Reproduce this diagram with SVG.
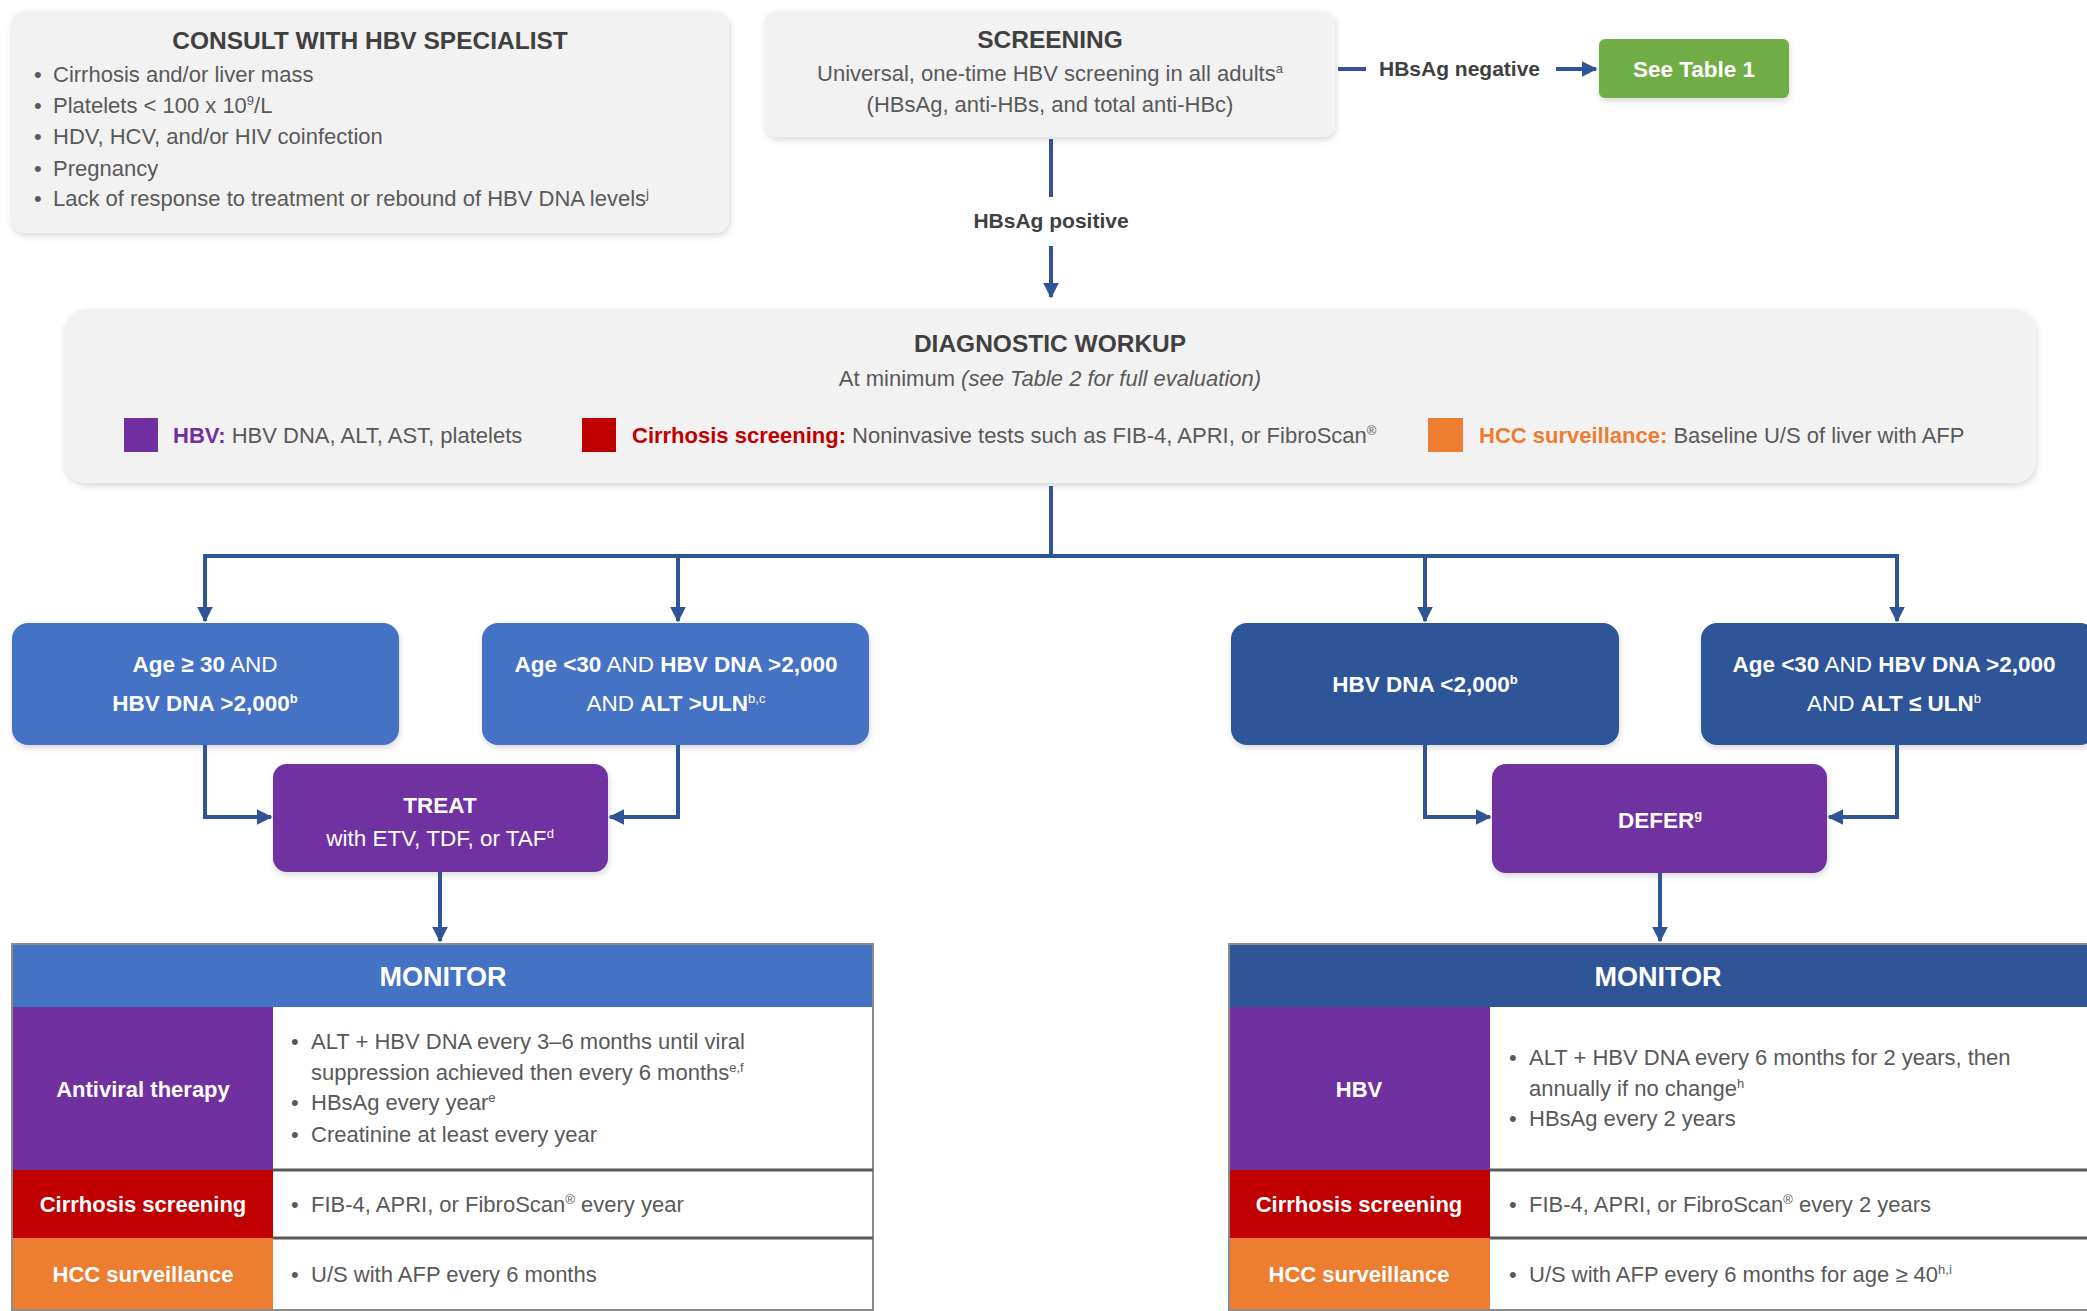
<svg xmlns="http://www.w3.org/2000/svg" width="2087" height="1311" viewBox="0 0 2087 1311">
<defs>
<filter id="sh" x="-5%" y="-10%" width="110%" height="125%">
<feDropShadow dx="1" dy="3" stdDeviation="3" flood-color="#000" flood-opacity="0.15"/>
</filter>
<marker id="ah" viewBox="0 0 10 10" refX="9" refY="5" markerWidth="4" markerHeight="4" markerUnits="strokeWidth" orient="auto">
<path d="M0,0 L10,5 L0,10 z" fill="#2F5597"/>
</marker>
</defs>
<style>
text{font-family:"Liberation Sans",Arial,sans-serif;}
.gbox{fill:#F2F2F2;}
.t{font-size:22px;fill:#595959;}
.h{font-size:24.5px;font-weight:bold;fill:#404040;}
.w{font-size:22.5px;fill:#FFFFFF;}
.b{font-weight:bold;}
.lbl{font-size:22px;font-weight:bold;fill:#FFFFFF;}
.mh{font-size:27px;font-weight:bold;fill:#FFFFFF;}
.sup{font-size:13px;}
.con{fill:none;stroke:#2F5597;stroke-width:4;}
.sep{stroke:#595959;stroke-width:3;}
.bd{fill:none;stroke:#8C8C8C;stroke-width:2;}
</style>
<rect width="2087" height="1311" fill="#FFFFFF"/>

<g id="consult">
<rect class="gbox" x="11" y="11" width="718" height="222" rx="14" filter="url(#sh)"/>
<text class="h" x="370" y="49" text-anchor="middle">CONSULT WITH HBV SPECIALIST</text>
<text class="t" x="34" y="82">•</text><text class="t" x="53" y="82">Cirrhosis and/or liver mass</text>
<text class="t" x="34" y="113">•</text><text class="t" x="53" y="113">Platelets &lt; 100 x 10<tspan class="sup" dy="-8">9</tspan><tspan dy="8">/L</tspan></text>
<text class="t" x="34" y="144">•</text><text class="t" x="53" y="144">HDV, HCV, and/or HIV coinfection</text>
<text class="t" x="34" y="176">•</text><text class="t" x="53" y="176">Pregnancy</text>
<text class="t" x="34" y="206">•</text><text class="t" x="53" y="206">Lack of response to treatment or rebound of HBV DNA levels<tspan class="sup" dy="-8">j</tspan></text>
</g>

<g id="screening">
<rect class="gbox" x="765" y="11" width="570" height="126" rx="12" filter="url(#sh)"/>
<text class="h" x="1050" y="48" text-anchor="middle">SCREENING</text>
<text class="t" x="1050" y="81" text-anchor="middle">Universal, one-time HBV screening in all adults<tspan class="sup" dy="-8">a</tspan></text>
<text class="t" x="1050" y="112" text-anchor="middle">(HBsAg, anti-HBs, and total anti-HBc)</text>
</g>

<g id="see-table-1">
<rect x="1599" y="39" width="190" height="59" rx="6" fill="#70AD47" filter="url(#sh)"/>
<text class="w b" x="1694" y="77" text-anchor="middle">See Table 1</text>
</g>

<g id="diagnostic">
<rect class="gbox" x="64" y="309" width="1972" height="174" rx="22" filter="url(#sh)"/>
<text class="h" x="1050" y="352" text-anchor="middle" font-size="26.5">DIAGNOSTIC WORKUP</text>
<text class="t" x="1050" y="386" text-anchor="middle">At minimum <tspan font-style="italic">(see Table 2 for full evaluation)</tspan></text>
<rect x="124" y="418" width="34" height="34" fill="#7030A0"/>
<text class="t" x="173" y="443"><tspan class="b" fill="#7030A0">HBV:</tspan> HBV DNA, ALT, AST, platelets</text>
<rect x="582" y="418" width="34" height="34" fill="#C00000"/>
<text class="t" x="632" y="443"><tspan class="b" fill="#C00000">Cirrhosis screening:</tspan> Noninvasive tests such as FIB-4, APRI, or FibroScan<tspan class="sup" dy="-8">®</tspan></text>
<rect x="1428" y="418" width="35" height="34" fill="#ED7D31"/>
<text class="t" x="1479" y="443"><tspan class="b" fill="#ED7D31">HCC surveillance:</tspan> Baseline U/S of liver with AFP</text>
</g>

<g id="cond1">
<rect x="12" y="623" width="387" height="122" rx="16" fill="#4472C4" filter="url(#sh)"/>
<text class="w" x="205" y="672" text-anchor="middle"><tspan class="b">Age ≥ 30</tspan> AND</text>
<text class="w b" x="205" y="711" text-anchor="middle">HBV DNA &gt;2,000<tspan class="sup" dy="-8">b</tspan></text>
</g>
<g id="cond2">
<rect x="482" y="623" width="387" height="122" rx="16" fill="#4472C4" filter="url(#sh)"/>
<text class="w" x="676" y="672" text-anchor="middle"><tspan class="b">Age &lt;30</tspan> AND <tspan class="b">HBV DNA &gt;2,000</tspan></text>
<text class="w" x="676" y="711" text-anchor="middle">AND <tspan class="b">ALT &gt;ULN</tspan><tspan class="sup" dy="-8">b,c</tspan></text>
</g>
<g id="cond3">
<rect x="1231" y="623" width="388" height="122" rx="16" fill="#2F5597" filter="url(#sh)"/>
<text class="w b" x="1425" y="692" text-anchor="middle">HBV DNA &lt;2,000<tspan class="sup" dy="-8">b</tspan></text>
</g>
<g id="cond4">
<rect x="1701" y="623" width="395" height="122" rx="16" fill="#2F5597" filter="url(#sh)"/>
<text class="w" x="1894" y="672" text-anchor="middle"><tspan class="b">Age &lt;30</tspan> AND <tspan class="b">HBV DNA &gt;2,000</tspan></text>
<text class="w" x="1894" y="711" text-anchor="middle">AND <tspan class="b">ALT ≤ ULN</tspan><tspan class="sup" dy="-8">b</tspan></text>
</g>

<g id="treat">
<rect x="273" y="764" width="335" height="108" rx="14" fill="#7030A0" filter="url(#sh)"/>
<text class="w b" x="440" y="813" text-anchor="middle" font-size="27">TREAT</text>
<text class="w" x="440" y="846" text-anchor="middle">with ETV, TDF, or TAF<tspan class="sup" dy="-8">d</tspan></text>
</g>
<g id="defer">
<rect x="1492" y="764" width="335" height="109" rx="14" fill="#7030A0" filter="url(#sh)"/>
<text class="w b" x="1660" y="828" text-anchor="middle" font-size="26">DEFER<tspan class="sup" dy="-9">g</tspan></text>
</g>

<g id="monitor-treat">
<rect x="12" y="944" width="861" height="63" fill="#4472C4"/>
<text class="mh" x="443" y="986" text-anchor="middle">MONITOR</text>
<rect x="12" y="1007" width="261" height="163" fill="#7030A0"/>
<rect x="12" y="1170" width="261" height="68" fill="#C00000"/>
<rect x="12" y="1238" width="261" height="73" fill="#ED7D31"/>
<rect x="273" y="1007" width="600" height="304" fill="#FFFFFF"/>
<rect class="bd" x="12" y="944" width="861" height="366"/>
<line class="sep" x1="273" y1="1170" x2="873" y2="1170"/>
<line class="sep" x1="273" y1="1238" x2="873" y2="1238"/>
<text class="lbl" x="143" y="1097" text-anchor="middle">Antiviral therapy</text>
<text class="lbl" x="143" y="1212" text-anchor="middle">Cirrhosis screening</text>
<text class="lbl" x="143" y="1282" text-anchor="middle">HCC surveillance</text>
<text class="t" x="291" y="1049">•</text><text class="t" x="311" y="1049">ALT + HBV DNA every 3–6 months until viral</text>
<text class="t" x="311" y="1080">suppression achieved then every 6 months<tspan class="sup" dy="-8">e,f</tspan></text>
<text class="t" x="291" y="1110">•</text><text class="t" x="311" y="1110">HBsAg every year<tspan class="sup" dy="-8">e</tspan></text>
<text class="t" x="291" y="1142">•</text><text class="t" x="311" y="1142">Creatinine at least every year</text>
<text class="t" x="291" y="1212">•</text><text class="t" x="311" y="1212">FIB-4, APRI, or FibroScan<tspan class="sup" dy="-8">®</tspan><tspan dy="8"> every year</tspan></text>
<text class="t" x="291" y="1282">•</text><text class="t" x="311" y="1282">U/S with AFP every 6 months</text>
</g>

<g id="monitor-defer">
<rect x="1229" y="944" width="870" height="63" fill="#2F5597"/>
<text class="mh" x="1658" y="986" text-anchor="middle">MONITOR</text>
<rect x="1229" y="1007" width="261" height="163" fill="#7030A0"/>
<rect x="1229" y="1170" width="261" height="68" fill="#C00000"/>
<rect x="1229" y="1238" width="261" height="73" fill="#ED7D31"/>
<rect x="1490" y="1007" width="609" height="304" fill="#FFFFFF"/>
<rect class="bd" x="1229" y="944" width="870" height="366"/>
<line class="sep" x1="1490" y1="1170" x2="2087" y2="1170"/>
<line class="sep" x1="1490" y1="1238" x2="2087" y2="1238"/>
<text class="lbl" x="1359" y="1097" text-anchor="middle">HBV</text>
<text class="lbl" x="1359" y="1212" text-anchor="middle">Cirrhosis screening</text>
<text class="lbl" x="1359" y="1282" text-anchor="middle">HCC surveillance</text>
<text class="t" x="1509" y="1065">•</text><text class="t" x="1529" y="1065">ALT + HBV DNA every 6 months for 2 years, then</text>
<text class="t" x="1529" y="1096">annually if no change<tspan class="sup" dy="-8">h</tspan></text>
<text class="t" x="1509" y="1126">•</text><text class="t" x="1529" y="1126">HBsAg every 2 years</text>
<text class="t" x="1509" y="1212">•</text><text class="t" x="1529" y="1212">FIB-4, APRI, or FibroScan<tspan class="sup" dy="-8">®</tspan><tspan dy="8"> every 2 years</tspan></text>
<text class="t" x="1509" y="1282">•</text><text class="t" x="1529" y="1282">U/S with AFP every 6 months for age ≥ 40<tspan class="sup" dy="-8">h,i</tspan></text>
</g>

<g id="connectors">
<line class="con" x1="1338" y1="69" x2="1366" y2="69"/>
<text x="1379" y="76" font-size="21" font-weight="bold" fill="#404040">HBsAg negative</text>
<line class="con" x1="1556" y1="69" x2="1596" y2="69" marker-end="url(#ah)"/>
<line class="con" x1="1051" y1="139" x2="1051" y2="197"/>
<text x="1051" y="228" font-size="21" font-weight="bold" fill="#404040" text-anchor="middle">HBsAg positive</text>
<line class="con" x1="1051" y1="246" x2="1051" y2="297" marker-end="url(#ah)"/>
<line class="con" x1="1051" y1="486" x2="1051" y2="556"/>
<line class="con" x1="205" y1="556" x2="1899" y2="556"/>
<line class="con" x1="205" y1="554" x2="205" y2="621" marker-end="url(#ah)"/>
<line class="con" x1="678" y1="554" x2="678" y2="621" marker-end="url(#ah)"/>
<line class="con" x1="1425" y1="554" x2="1425" y2="621" marker-end="url(#ah)"/>
<line class="con" x1="1897" y1="554" x2="1897" y2="621" marker-end="url(#ah)"/>
<polyline class="con" points="205,745 205,817 271,817" marker-end="url(#ah)"/>
<polyline class="con" points="678,745 678,817 610,817" marker-end="url(#ah)"/>
<polyline class="con" points="1425,745 1425,817 1490,817" marker-end="url(#ah)"/>
<polyline class="con" points="1897,745 1897,817 1829,817" marker-end="url(#ah)"/>
<line class="con" x1="440" y1="872" x2="440" y2="941" marker-end="url(#ah)"/>
<line class="con" x1="1660" y1="873" x2="1660" y2="941" marker-end="url(#ah)"/>
</g>
</svg>
